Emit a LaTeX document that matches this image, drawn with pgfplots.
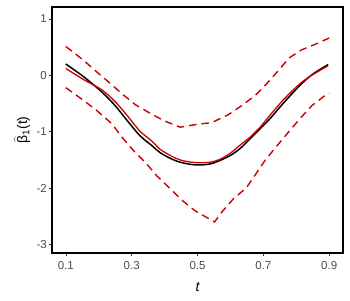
\documentclass[border=0pt]{standalone}
\usepackage{pgfplots}
\pgfplotsset{compat=1.18}
\usepackage{fontspec}
\setmainfont{Liberation Sans}
\definecolor{redc}{RGB}{205,0,0}
\definecolor{tickgray}{RGB}{77,77,77}
\begin{document}
\begin{tikzpicture}[x=1pt,y=1pt]
\begin{axis}[
  at={(52pt,47pt)}, anchor=south west,
  scale only axis, width=291pt, height=246pt,
  xmin=0.058, xmax=0.942, ymin=-3.15, ymax=1.21,
  xtick={0.1,0.3,0.5,0.7,0.9}, xticklabels={0.1,0.3,0.5,0.7,0.9},
  ytick={-3,-2,-1,0,1}, yticklabels={-3,-2,-1,0,1},
  tick align=outside, tick pos=left, major tick length=3pt,
  axis line style={line width=1.1pt},
  tick style={black!80, line width=0.6pt},
  ticklabel style={font=\fontsize{11.5}{12}\selectfont, text=tickgray},
  xticklabel style={inner sep=2pt, yshift=-3pt},
  yticklabel style={inner sep=2pt},
  /pgf/number format/assume math mode=true,
  xlabel={\itshape t}, 
  ylabel={\ensuremath{\widehat{\mbox{β}}}\textsubscript{1}(t)},
  label style={font=\fontsize{14}{15}\selectfont},
  xlabel style={yshift=-8pt},
  ylabel style={yshift=1pt},
]
\addplot[black, line width=1.5pt, smooth] coordinates {
(0.10,0.20) (0.155,-0.03) (0.21,-0.30) (0.25,-0.54) (0.286,-0.80) (0.325,-1.07)
(0.362,-1.25) (0.386,-1.37) (0.42,-1.48) (0.447,-1.54) (0.48,-1.58) (0.508,-1.59)
(0.54,-1.57) (0.568,-1.51) (0.60,-1.42) (0.629,-1.30) (0.659,-1.13) (0.69,-0.95)
(0.72,-0.77) (0.76,-0.50) (0.811,-0.18) (0.85,0.02) (0.897,0.19)};
\addplot[redc, line width=1.3pt, smooth] coordinates {
(0.10,0.12) (0.155,-0.08) (0.21,-0.26) (0.25,-0.47) (0.286,-0.71) (0.325,-0.99)
(0.362,-1.17) (0.386,-1.31) (0.42,-1.43) (0.447,-1.50) (0.48,-1.54) (0.508,-1.55)
(0.54,-1.54) (0.568,-1.49) (0.60,-1.38) (0.629,-1.24) (0.659,-1.10) (0.69,-0.92)
(0.72,-0.71) (0.76,-0.44) (0.811,-0.15) (0.85,0.01) (0.897,0.17)};
\addplot[redc, line width=1.4pt, dash pattern=on 7.5pt off 5pt] coordinates {
(0.10,0.51) (0.155,0.26) (0.19,0.08) (0.23,-0.12) (0.271,-0.33) (0.311,-0.52)
(0.352,-0.66) (0.396,-0.80) (0.447,-0.92) (0.498,-0.87) (0.543,-0.84) (0.593,-0.70)
(0.634,-0.54) (0.675,-0.36) (0.71,-0.15) (0.745,0.08) (0.779,0.31) (0.816,0.45)
(0.862,0.56) (0.90,0.66)};
\addplot[redc, line width=1.4pt, dash pattern=on 7.5pt off 5pt] coordinates {
(0.10,-0.22) (0.155,-0.45) (0.195,-0.63) (0.24,-0.86) (0.271,-1.10) (0.306,-1.34)
(0.341,-1.54) (0.376,-1.78) (0.417,-2.01) (0.452,-2.21) (0.492,-2.40) (0.552,-2.60)
(0.573,-2.43) (0.609,-2.19) (0.649,-1.99) (0.705,-1.51) (0.74,-1.26) (0.776,-1.01)
(0.811,-0.77) (0.847,-0.54) (0.887,-0.36) (0.90,-0.32)};
\end{axis}
\pgfresetboundingbox
\useasboundingbox (0,0) rectangle (350,300);
\end{tikzpicture}
\end{document}
